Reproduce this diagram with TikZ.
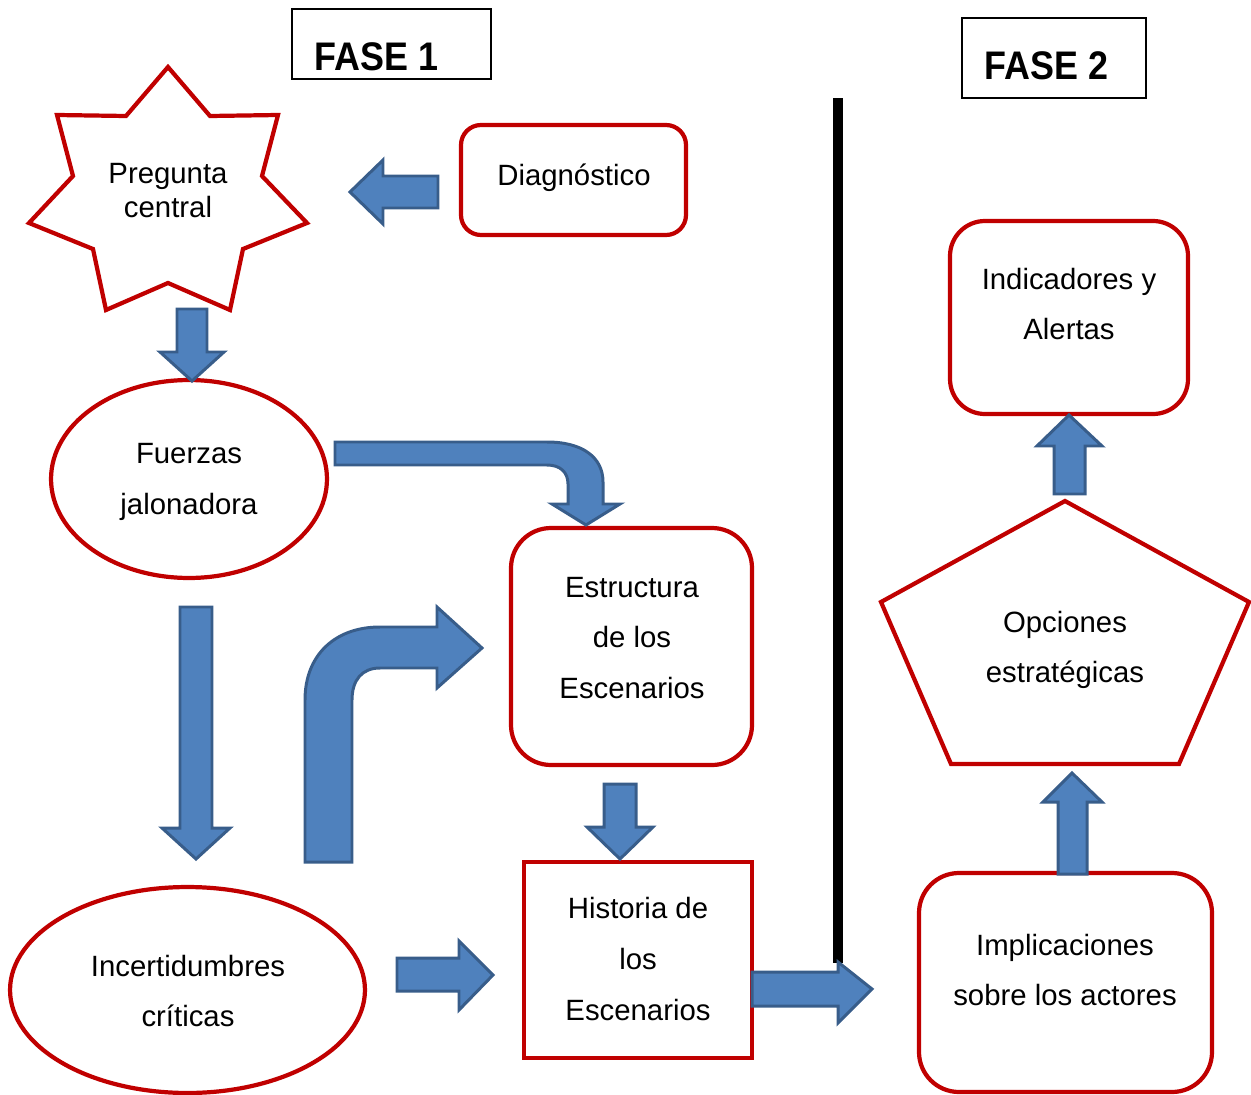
\documentclass[tikz,border=0pt]{standalone}
\usepackage{fontspec}
\usepackage{graphicx}
\setmainfont{Liberation Sans}
\definecolor{myred}{HTML}{C00000}
\definecolor{bfill}{HTML}{4F81BD}
\definecolor{bdraw}{HTML}{385D8A}
\begin{document}
\begin{tikzpicture}[x=0.02cm,y=-0.02cm,
  redline/.style={draw=myred,line width=2.4pt,line join=miter},
  barrow/.style={fill=bfill,draw=bdraw,line width=1.7pt,line join=miter},
  txt/.style={font=\fontsize{16.7}{28.9}\selectfont,align=center,inner sep=0pt},
  fase/.style={font=\fontsize{22.7}{27}\selectfont\bfseries,anchor=west,inner sep=0pt},
  ]
\useasboundingbox (0,0) rectangle (1251,1095);

% ---- FASE labels
\draw[line width=1.2pt] (292,9) rectangle (491,79);
\node[fase] (f1) at (314,57) {\scalebox{0.9}[1]{FASE 1}};
\draw[line width=1.2pt] (962,18) rectangle (1146,98);
\node[fase] (f2) at (984,66) {\scalebox{0.9}[1]{FASE 2}};

% ---- divider
\fill[black] (833,98) rectangle (843,963);

% ---- shapes
\draw[redline] (168,67) -- (210,116) -- (278,115) -- (262,176) -- (307,223)
  -- (243,249) -- (230,310) -- (168,283) -- (106,310) -- (93,249) -- (29,223)
  -- (73,176) -- (57,115) -- (126,116) -- cycle;
\draw[redline,rounded corners=0.4cm] (461,125) rectangle (686,235);
\draw[redline] (189,479) ellipse [x radius=2.76cm, y radius=1.98cm];
\draw[redline] (187.5,990) ellipse [x radius=3.55cm, y radius=2.06cm];
\draw[redline,rounded corners=0.8cm] (511,528) rectangle (752,765);
\draw[redline] (524,862) rectangle (752,1058);
\draw[redline,rounded corners=0.7cm] (950,221) rectangle (1188,414);
\draw[redline] (1065,501) -- (1249,602) -- (1179,764) -- (951,764) -- (881,602) -- cycle;
\draw[redline,rounded corners=0.8cm] (919,873) rectangle (1212,1092);

% ---- texts
\node[txt] (diag) at (574,178) {Diagnóstico};
\node[txt,font=\fontsize{16.7}{19.3}\selectfont] (preg) at (168,191) {Pregunta\\central};
\node[txt] (fuer) at (189,482) {Fuerzas\\jalonadora};
\node[txt] (incert) at (188,991) {Incertidumbres\\críticas};
\node[txt] (estr) at (632,638) {Estructura\\de los\\Escenarios};
\node[txt] (hist) at (638,959) {Historia de\\los\\Escenarios};
\node[txt] (indic) at (1069,304) {Indicadores y\\Alertas};
\node[txt] (opc) at (1065,650) {Opciones\\estratégicas};
\node[txt] (impl) at (1065,970) {Implicaciones\\sobre los actores};

% ---- block arrows
% Diagnostico -> Pregunta
\draw[barrow] (438,176) -- (383,176) -- (383,160) -- (350,192) -- (383,224) -- (383,208) -- (438,208) -- cycle;
% Pregunta -> Fuerzas
\draw[barrow] (177,309) -- (207,309) -- (207,352) -- (224,352) -- (192,381) -- (160,352) -- (177,352) -- cycle;
% Fuerzas -> Incertidumbres
\draw[barrow] (180,607) -- (212,607) -- (212,828) -- (230,828) -- (196,859) -- (162,828) -- (180,828) -- cycle;
% Fuerzas -> Estructura (bent)
\draw[barrow] (335,442) -- (547,442) .. controls (582,442) and (603,457) .. (603,482)
  -- (603,504) -- (620,504) -- (586,525) -- (552,504) -- (568,504) -- (568,484)
  .. controls (568,472) and (560,465) .. (547,465) -- (335,465) -- cycle;
% Incertidumbres -> Estructura (bent)
\draw[barrow] (305,862) -- (305,700) .. controls (305,655) and (335,627) .. (380,627)
  -- (437,627) -- (437,607) -- (482,648) -- (437,688) -- (437,668) -- (380,668)
  .. controls (362,668) and (352,680) .. (352,700) -- (352,862) -- cycle;
% Estructura -> Historia
\draw[barrow] (604,784) -- (636,784) -- (636,827) -- (653,827) -- (620,859) -- (587,827) -- (604,827) -- cycle;
% Incertidumbres -> Historia
\draw[barrow] (397,958) -- (459,958) -- (459,941) -- (493,975) -- (459,1010) -- (459,991) -- (397,991) -- cycle;
% Historia -> Implicaciones
\draw[barrow] (752,972) -- (838,972) -- (838,962) -- (872,989) -- (838,1023) -- (838,1006) -- (752,1006) -- cycle;
% Implicaciones -> Opciones
\draw[barrow] (1058,874) -- (1058,802) -- (1043,802) -- (1072,773) -- (1102,802) -- (1087,802) -- (1087,874) -- cycle;
% Opciones -> Indicadores
\draw[barrow] (1054,494) -- (1054,446) -- (1037,446) -- (1069,415) -- (1102,446) -- (1085,446) -- (1085,494) -- cycle;
\end{tikzpicture}
\end{document}
